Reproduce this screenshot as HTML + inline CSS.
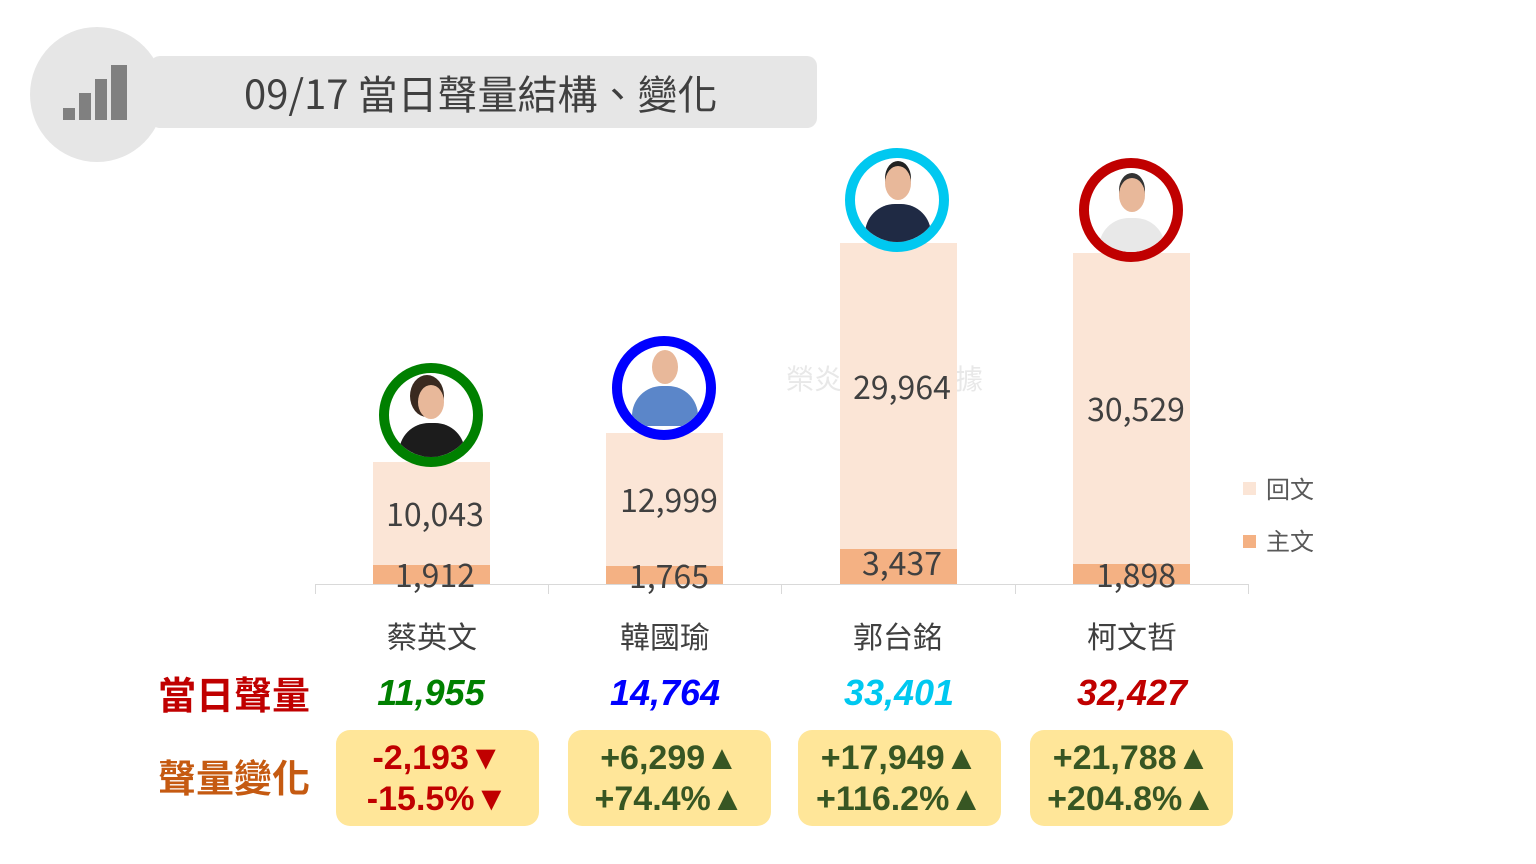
<!DOCTYPE html>
<html><head><meta charset="utf-8"><style>
*{margin:0;padding:0;box-sizing:border-box}
body{width:1536px;height:864px;background:#fff;position:relative;overflow:hidden;font-family:"Liberation Sans","Noto Sans CJK TC",sans-serif}
.a{position:absolute}
.bar{position:absolute;background:#fbe5d6}
.main{position:absolute;background:#f4b183}
.lbl{position:absolute;width:140px;text-align:center;font-size:32px;color:#404040;font-family:"Noto Sans CJK TC",sans-serif;line-height:1}
.name{position:absolute;width:160px;text-align:center;font-size:30px;color:#404040;top:613px;font-family:"Noto Sans CJK TC",sans-serif}
.tot{position:absolute;width:200px;text-align:center;font-size:36px;font-weight:bold;font-style:italic;top:672px}
.box{position:absolute;top:730px;height:96px;background:#ffe699;border-radius:14px;text-align:center;font-weight:bold;font-size:34px;line-height:41px;padding-top:8px}
.circ{position:absolute;width:104px;height:104px;border-radius:50%;border:10px solid;background:#fff;overflow:hidden}
.head{position:absolute;left:30px;top:12px;width:26px;height:34px;border-radius:50%;background:#e8b89a}
.body{position:absolute;left:10px;top:50px;width:66px;height:40px;border-radius:30px 30px 0 0}
.tick{position:absolute;top:584px;width:1px;height:10px;background:#d9d9d9}
</style></head><body>
<div class="a" style="left:150px;top:56px;width:667px;height:72px;background:#e6e6e6;border-radius:10px"></div>
<div class="a" style="left:30px;top:27px;width:134px;height:135px;border-radius:50%;background:#e6e6e6"></div>
<div class="a" style="left:63px;top:108px;width:12px;height:12px;background:#808080"></div>
<div class="a" style="left:79px;top:93px;width:12px;height:27px;background:#808080"></div>
<div class="a" style="left:95px;top:79px;width:12px;height:41px;background:#808080"></div>
<div class="a" style="left:111px;top:65px;width:16px;height:55px;background:#808080"></div>
<div class="a" style="left:244px;top:68px;font-size:40px;color:#404040;font-family:'Noto Sans CJK TC',sans-serif;line-height:48px">09/17 當日聲量結構、變化</div>

<div class="a" style="left:786px;top:358px;font-size:28px;color:#e8e8e8;font-family:'Noto Sans CJK TC',sans-serif">榮炎</div>
<div class="a" style="left:955px;top:358px;font-size:28px;color:#e8e8e8;font-family:'Noto Sans CJK TC',sans-serif">據</div>

<div class="bar" style="left:373px;top:462px;width:117px;height:122px"></div>
<div class="main" style="left:373px;top:565px;width:117px;height:19px"></div>
<div class="bar" style="left:606px;top:433px;width:117px;height:151px"></div>
<div class="main" style="left:606px;top:566px;width:117px;height:18px"></div>
<div class="bar" style="left:840px;top:243px;width:117px;height:341px"></div>
<div class="main" style="left:840px;top:549px;width:117px;height:35px"></div>
<div class="bar" style="left:1073px;top:253px;width:117px;height:331px"></div>
<div class="main" style="left:1073px;top:564px;width:117px;height:20px"></div>

<div class="a" style="left:315px;top:584px;width:934px;height:1px;background:#d9d9d9"></div>
<div class="tick" style="left:315px"></div><div class="tick" style="left:548px"></div><div class="tick" style="left:781px"></div><div class="tick" style="left:1015px"></div><div class="tick" style="left:1248px"></div>

<div class="lbl" style="left:365px;top:497px">10,043</div>
<div class="lbl" style="left:365px;top:558px">1,912</div>
<div class="lbl" style="left:599px;top:483px">12,999</div>
<div class="lbl" style="left:599px;top:559px">1,765</div>
<div class="lbl" style="left:832px;top:370px">29,964</div>
<div class="lbl" style="left:832px;top:546px">3,437</div>
<div class="lbl" style="left:1066px;top:392px">30,529</div>
<div class="lbl" style="left:1066px;top:558px">1,898</div>

<div class="circ" style="left:379px;top:363px;border-color:#008000"><div class="head" style="left:29px;top:12px;box-shadow:-4px -6px 0 4px #3a2a20"></div><div class="body" style="background:#1c1c1c"></div></div>
<div class="circ" style="left:612px;top:336px;border-color:#0000ff"><div class="head" style="top:4px"></div><div class="body" style="top:40px;background:#5b86c9"></div></div>
<div class="circ" style="left:845px;top:148px;border-color:#00c8f0"><div class="head" style="top:8px;box-shadow:0 -5px 0 0 #222"></div><div class="body" style="top:46px;background:#1f2a44"></div></div>
<div class="circ" style="left:1079px;top:158px;border-color:#c00000"><div class="head" style="top:10px;box-shadow:0 -5px 0 0 #333"></div><div class="body" style="top:50px;background:#e8e8e8"></div></div>

<div class="a" style="left:1243px;top:482px;width:13px;height:13px;background:#fbe5d6"></div>
<div class="a" style="left:1266px;top:470px;font-size:24px;color:#595959;font-family:'Noto Sans CJK TC',sans-serif">回文</div>
<div class="a" style="left:1243px;top:535px;width:13px;height:13px;background:#f4b183"></div>
<div class="a" style="left:1266px;top:522px;font-size:24px;color:#595959;font-family:'Noto Sans CJK TC',sans-serif">主文</div>

<div class="name" style="left:352px">蔡英文</div>
<div class="name" style="left:585px">韓國瑜</div>
<div class="name" style="left:818px">郭台銘</div>
<div class="name" style="left:1052px">柯文哲</div>

<div class="a" style="left:158px;top:665px;font-size:38px;color:#c00000;font-family:'Noto Sans CJK TC',sans-serif;font-weight:bold">當日聲量</div>
<div class="a" style="left:158px;top:748px;font-size:38px;color:#c55a11;font-family:'Noto Sans CJK TC',sans-serif;font-weight:bold">聲量變化</div>

<div class="tot" style="left:331px;color:#008000">11,955</div>
<div class="tot" style="left:565px;color:#0000ff">14,764</div>
<div class="tot" style="left:799px;color:#00c8f0">33,401</div>
<div class="tot" style="left:1032px;color:#c00000">32,427</div>

<div class="box" style="left:336px;width:203px;color:#c00000">-2,193▼<br>-15.5%▼</div>
<div class="box" style="left:568px;width:203px;color:#375623">+6,299▲<br>+74.4%▲</div>
<div class="box" style="left:798px;width:203px;color:#375623">+17,949▲<br>+116.2%▲</div>
<div class="box" style="left:1030px;width:203px;color:#375623">+21,788▲<br>+204.8%▲</div>
</body></html>
